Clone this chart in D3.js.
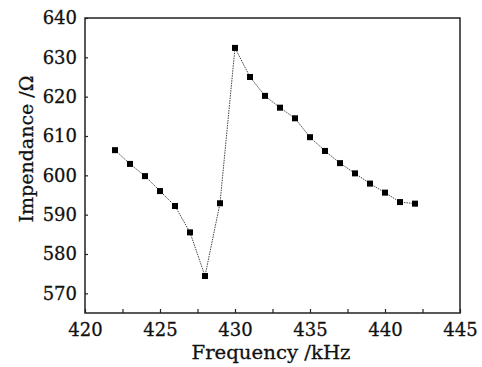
<!DOCTYPE html>
<html><head><meta charset="utf-8">
<script src="https://cdn.jsdelivr.net/npm/d3@7"></script>
<style>body{margin:0;background:#fff}svg{display:block}text{font-family:"DejaVu Serif",serif;fill:#111}</style>
</head><body>
<svg id="c" width="482" height="367"></svg>
<script>
const freq = [422,423,424,425,426,427,428,429,430,431,432,433,434,435,436,437,438,439,440,441,442];
const impedance = [606.4,602.9,599.8,596.0,592.2,585.5,574.4,592.9,632.4,625.0,620.2,617.2,614.5,609.7,606.2,603.1,600.5,597.9,595.6,593.2,592.8];
const xTicks = [420,425,430,435,440,445];
const yTicks = [570,580,590,600,610,620,630,640];
const xLabel = "Frequency /kHz";
const yLabel = "Impendance /Ω";

const svg = d3.select("#c");
const L=85, R=460, T=18, B=313;
const x = d3.scaleLinear().domain([420,445]).range([L,R]);
const y = d3.scaleLinear().domain([565,640]).range([B,T]);

svg.append("rect").attr("x",L).attr("y",T).attr("width",R-L).attr("height",B-T)
  .attr("fill","none").attr("stroke","#222").attr("stroke-width",1.5);

const xa = svg.append("g").attr("transform",`translate(0,${B})`)
  .call(d3.axisBottom(x).tickValues(d3.range(420,445.1,2.5)).tickSize(-4).tickPadding(10)
    .tickFormat(d=>xTicks.includes(d)?d:""));
xa.select(".domain").remove();
xa.selectAll("line").attr("stroke","#222").attr("stroke-width",1.2);
xa.selectAll("text").attr("font-size",18).attr("fill","#111").attr("font-family","DejaVu Serif")
  .attr("stroke","#111").attr("stroke-width",0.3);

const ya = svg.append("g").attr("transform",`translate(${L},0)`)
  .call(d3.axisLeft(y).tickValues(yTicks).tickSize(-3).tickPadding(8));
ya.select(".domain").remove();
ya.selectAll("line").attr("stroke","#222").attr("stroke-width",1.2);
ya.selectAll("text").attr("font-size",18).attr("fill","#111").attr("font-family","DejaVu Serif")
  .attr("stroke","#111").attr("stroke-width",0.3);

const pts = freq.map((f,i)=>[f,impedance[i]]);
svg.append("path").attr("d",d3.line().x(d=>x(d[0])).y(d=>y(d[1]))(pts))
  .attr("fill","none").attr("stroke","#444").attr("stroke-width",1).attr("stroke-dasharray","1.5,1");
svg.selectAll("rect.m").data(pts).enter().append("rect").attr("class","m")
  .attr("x",d=>x(d[0])-3).attr("y",d=>y(d[1])-3).attr("width",6).attr("height",6).attr("fill","#000");

svg.append("text").attr("x",271).attr("y",359).attr("text-anchor","middle").attr("font-size",19)
  .attr("textLength",159).attr("lengthAdjust","spacingAndGlyphs")
  .attr("stroke","#111").attr("stroke-width",0.3).text(xLabel);
svg.append("text").attr("transform","translate(33,149) rotate(-90)").attr("text-anchor","middle").attr("font-size",19)
  .attr("stroke","#111").attr("stroke-width",0.3).text(yLabel);
</script>
</body></html>
